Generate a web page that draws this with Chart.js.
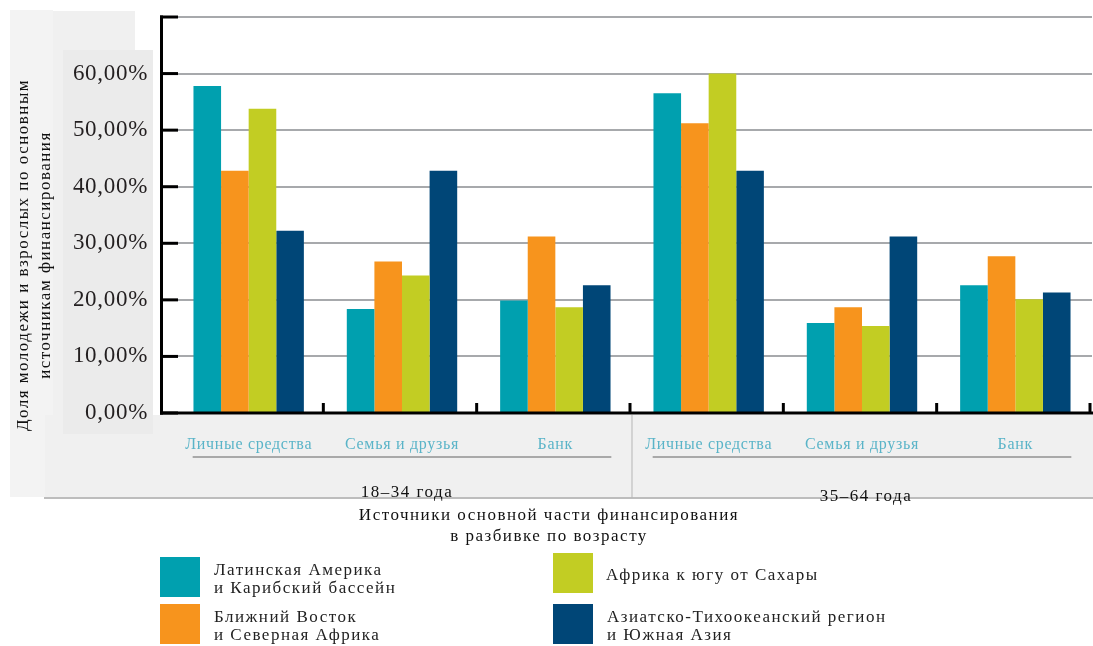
<!DOCTYPE html>
<html>
<head>
<meta charset="utf-8">
<script src="https://cdn.jsdelivr.net/npm/chart.js@4"></script>
<style>
  html, body { margin: 0; padding: 0; background: #fff; }
  #wrap { width: 1093px; height: 646px; }
</style>
</head>
<body>
<div id="wrap"><canvas id="chart" width="1093" height="646"></canvas></div>
<script>
// categories and groups
const categories = ['Личные средства', 'Семья и друзья', 'Банк', 'Личные средства', 'Семья и друзья', 'Банк'];
const ageGroups = ['18–34 года', '35–64 года'];

// series values, %
const latinAmerica = [57.8, 18.4, 19.9, 56.5, 15.9, 22.6];
const middleEast = [42.8, 26.8, 31.2, 51.2, 18.7, 27.7];
const subSaharan = [53.8, 24.3, 18.7, 60.0, 15.4, 20.1];
const asiaPacific = [32.2, 42.8, 22.6, 42.8, 31.2, 21.3];

const seriesNames = [
  ['Латинская Америка', 'и Карибский бассейн'],
  ['Ближний Восток', 'и Северная Африка'],
  ['Африка к югу от Сахары'],
  ['Азиатско-Тихоокеанский регион', 'и Южная Азия']
];
const seriesColors = ['#00a0af', '#f7941d', '#c2cd23', '#004677'];

const yTitle = ['Доля молодежи и взрослых по основным', 'источникам финансирования'];
const xTitle = ['Источники основной части финансирования', 'в разбивке по возрасту'];

const SERIF = '"Liberation Serif", "DejaVu Serif", serif';

function line(ctx, x1, y1, x2, y2) {
  ctx.beginPath();
  ctx.moveTo(x1, y1);
  ctx.lineTo(x2, y2);
  ctx.stroke();
}

const decor = {
  id: 'decor',
  beforeDraw(chart) {
    const ctx = chart.ctx;
    const xs = chart.scales.x;
    ctx.save();
    // grey panels
    ctx.fillStyle = '#f3f3f3';
    ctx.fillRect(10, 10, 43, 487);
    ctx.fillStyle = '#f0f0f0';
    ctx.fillRect(53, 11, 82, 486);
    ctx.fillRect(45, 415, 1048, 82);
    ctx.fillStyle = '#ebebeb';
    ctx.fillRect(63, 50, 90, 384);
    ctx.strokeStyle = '#bdbdbd';
    ctx.lineWidth = 2;
    line(ctx, 44, 498, 1093, 498);
    // separator between age groups
    const sep = (xs.getPixelForValue(2) + xs.getPixelForValue(3)) / 2;
    ctx.lineWidth = 1;
    ctx.strokeStyle = '#b5b5b5';
    line(ctx, sep, 415, sep, 498);
    // underlines below categories
    ctx.strokeStyle = '#a9a9a9';
    ctx.lineWidth = 2;
    line(ctx, xs.getPixelForValue(0) - 56, 457, xs.getPixelForValue(2) + 56, 457);
    line(ctx, xs.getPixelForValue(3) - 56, 457, xs.getPixelForValue(5) + 56, 457);
    ctx.restore();
    // slight tracking for the tick labels, like the original typesetting
    ctx.letterSpacing = '0.7px';
  },
  afterDraw(chart) {
    const ctx = chart.ctx;
    const xs = chart.scales.x;
    const ys = chart.scales.y;
    const area = chart.chartArea;
    ctx.save();
    ctx.strokeStyle = '#000';
    ctx.lineWidth = 3;
    // axes
    line(ctx, 161.5, ys.getPixelForValue(70) - 1.5, 161.5, area.bottom + 1.5);
    line(ctx, 160, area.bottom, 1093, area.bottom);
    // left ticks
    ys.ticks.forEach(t => {
      const y = ys.getPixelForValue(t.value);
      line(ctx, 160, y, 178, y);
    });
    // bottom ticks at category boundaries
    const step = xs.getPixelForValue(1) - xs.getPixelForValue(0);
    for (let i = 0; i < categories.length; i++) {
      const x = xs.getPixelForValue(i) + step / 2 - 2;
      line(ctx, x, area.bottom - 10, x, area.bottom);
    }
    ctx.letterSpacing = '1.5px';
    // age group labels
    ctx.fillStyle = '#111';
    ctx.font = '17px ' + SERIF;
    ctx.textAlign = 'center';
    ctx.textBaseline = 'middle';
    ctx.fillText(ageGroups[0], xs.getPixelForValue(1) + 5, 493);
    ctx.fillText(ageGroups[1], xs.getPixelForValue(4) + 4, 497);
    // x title
    ctx.fillText(xTitle[0], 549, 516);
    ctx.fillText(xTitle[1], 549, 537);
    // y title
    ctx.save();
    ctx.translate(24, 255);
    ctx.rotate(-Math.PI / 2);
    ctx.fillText(yTitle[0], 0, 0);
    ctx.fillText(yTitle[1], 0, 22);
    ctx.restore();
    // legend
    const legendPos = [[160, 557], [160, 604], [553, 553], [553, 604]];
    ctx.textAlign = 'left';
    seriesNames.forEach((name, i) => {
      const [lx, ly] = legendPos[i];
      ctx.fillStyle = seriesColors[i];
      ctx.fillRect(lx, ly, 40, 40);
      ctx.fillStyle = '#222';
      if (name.length === 2) {
        ctx.fillText(name[0], lx + 54, ly + 14);
        ctx.fillText(name[1], lx + 54, ly + 32);
      } else {
        ctx.fillText(name[0], lx + 53, ly + 23);
      }
    });
    ctx.restore();
    ctx.letterSpacing = '0px';
  }
};

const datasets = [latinAmerica, middleEast, subSaharan, asiaPacific].map((d, i) => ({
  label: seriesNames[i].join(' '),
  data: d,
  backgroundColor: seriesColors[i],
  borderWidth: 0,
  barPercentage: 1.0,
  categoryPercentage: 0.72
}));

new Chart(document.getElementById('chart'), {
  type: 'bar',
  data: { labels: categories, datasets: datasets },
  options: {
    responsive: false,
    animation: false,
    layout: { padding: { top: 17, right: 1, bottom: 0, left: 0 } },
    plugins: { legend: { display: false }, tooltip: { enabled: false } },
    scales: {
      x: {
        grid: { display: false, drawTicks: false },
        border: { display: false },
        ticks: {
          color: '#5ab4c8',
          font: { family: SERIF, size: 16 },
          padding: 22,
          maxRotation: 0,
          autoSkip: false
        },
        afterFit(scale) {
          scale.height = 646 - 413;
          scale.paddingLeft = 0;
          scale.paddingRight = 0;
        }
      },
      y: {
        min: 0,
        max: 70,
        ticks: {
          stepSize: 10,
          color: '#231f20',
          font: { family: SERIF, size: 23 },
          padding: 24,
          callback: v => v === 70 ? '' : v.toFixed(2).replace('.', ',') + '%'
        },
        grid: { color: '#a7a9ac', lineWidth: 2, drawTicks: false },
        border: { display: false },
        afterFit(scale) {
          scale.width = 172;
          scale.paddingTop = 0;
          scale.paddingBottom = 0;
        }
      }
    }
  },
  plugins: [decor]
});
</script>
</body>
</html>
